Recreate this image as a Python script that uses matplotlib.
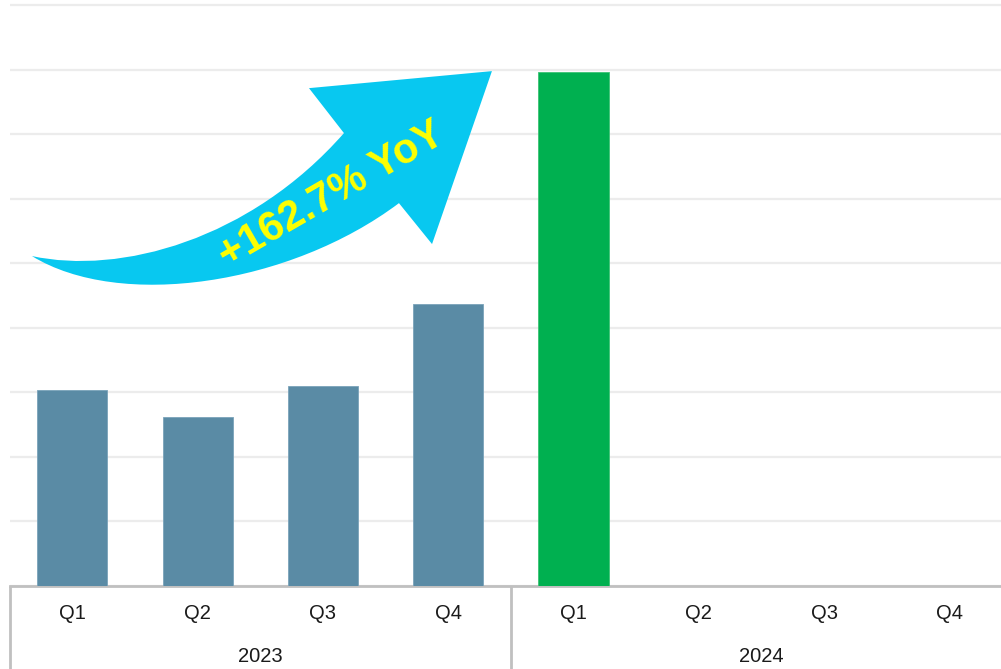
import matplotlib
matplotlib.use("Agg")
import matplotlib.pyplot as plt
from matplotlib.path import Path
from matplotlib.patches import PathPatch
import matplotlib.transforms as mtransforms

plt.rcParams['font.family'] = ['Liberation Sans', 'DejaVu Sans']

# quarterly values (gridline units)
years = ['2023', '2024']
quarters = ['Q1', 'Q2', 'Q3', 'Q4']
values_2023 = [3.03, 2.61, 3.09, 4.37]
values_2024 = [7.96]
yoy_label = '+162.7% YoY'

BLUE = '#5a8ba5'
GREEN = '#00b050'
ARROW = '#08c8f0'
GRID = '#ececec'
AXIS = '#c0c0c0'

fig = plt.figure(figsize=(10.01, 6.69), dpi=100)
ax = fig.add_axes([9.65 / 1001, 83.5 / 669, 1002.4 / 1001, 585.5 / 669])

n_cat = len(years) * len(quarters)
x_2023 = list(range(len(values_2023)))
x_2024 = [len(quarters) + i for i in range(len(values_2024))]

ax.bar(x_2023, values_2023, width=0.56, color=BLUE, edgecolor='#7aa3ba', linewidth=0.6, zorder=3)
ax.bar(x_2024, values_2024, width=0.56, color=GREEN, edgecolor='#3cc374', linewidth=0.6, zorder=3)

ax.set_xlim(-0.5, n_cat - 0.5)
ax.set_ylim(0, 9.08)
ax.set_yticks(range(0, 10))
ax.yaxis.grid(True, color=GRID, linewidth=1.6, zorder=0)
ax.set_axisbelow(True)
ax.tick_params(left=False, labelleft=False, bottom=False, labelbottom=False)
for side in ['top', 'right', 'left']:
    ax.spines[side].set_visible(False)
ax.spines['bottom'].set_color(AXIS)
ax.spines['bottom'].set_linewidth(2)

# two-level category axis: quarters, then years
trans = mtransforms.blended_transform_factory(ax.transData, ax.transAxes)
for i in range(n_cat):
    ax.text(i, -0.048, quarters[i % 4], transform=trans, ha='center', va='center',
            fontsize=14.5, color='#1a1a1a', clip_on=False)
for j, yr in enumerate(years):
    ax.text(j * 4 + 1.5, -0.122, yr, transform=trans, ha='center', va='center',
            fontsize=14.5, color='#1a1a1a', clip_on=False)
for b in [-0.5, 3.5, 7.5]:
    ax.plot([b, b], [0, -0.2], transform=trans, color=AXIS, linewidth=2,
            clip_on=False, solid_capstyle='butt')

# curved growth arrow
verts = [
    (-0.322, 5.109),
    (0.381, 4.814), (1.418, 5.357), (2.168, 7.016),
    (1.889, 7.713),
    (3.349, 7.977),
    (2.871, 5.295),
    (2.607, 5.930),
    (1.737, 4.659), (0.381, 4.271), (-0.322, 5.109),
    (-0.322, 5.109),
]
codes = [Path.MOVETO,
         Path.CURVE4, Path.CURVE4, Path.CURVE4,
         Path.LINETO, Path.LINETO, Path.LINETO, Path.LINETO,
         Path.CURVE4, Path.CURVE4, Path.CURVE4,
         Path.CLOSEPOLY]
ax.add_patch(PathPatch(Path(verts, codes), facecolor=ARROW, edgecolor='none', zorder=4))
ax.text(2.07, 6.05, yoy_label, rotation=30, rotation_mode='anchor', ha='center', va='center',
        fontsize=30, fontweight='bold', color='#ffff00', zorder=5)

fig.savefig('out.png', dpi=100)
